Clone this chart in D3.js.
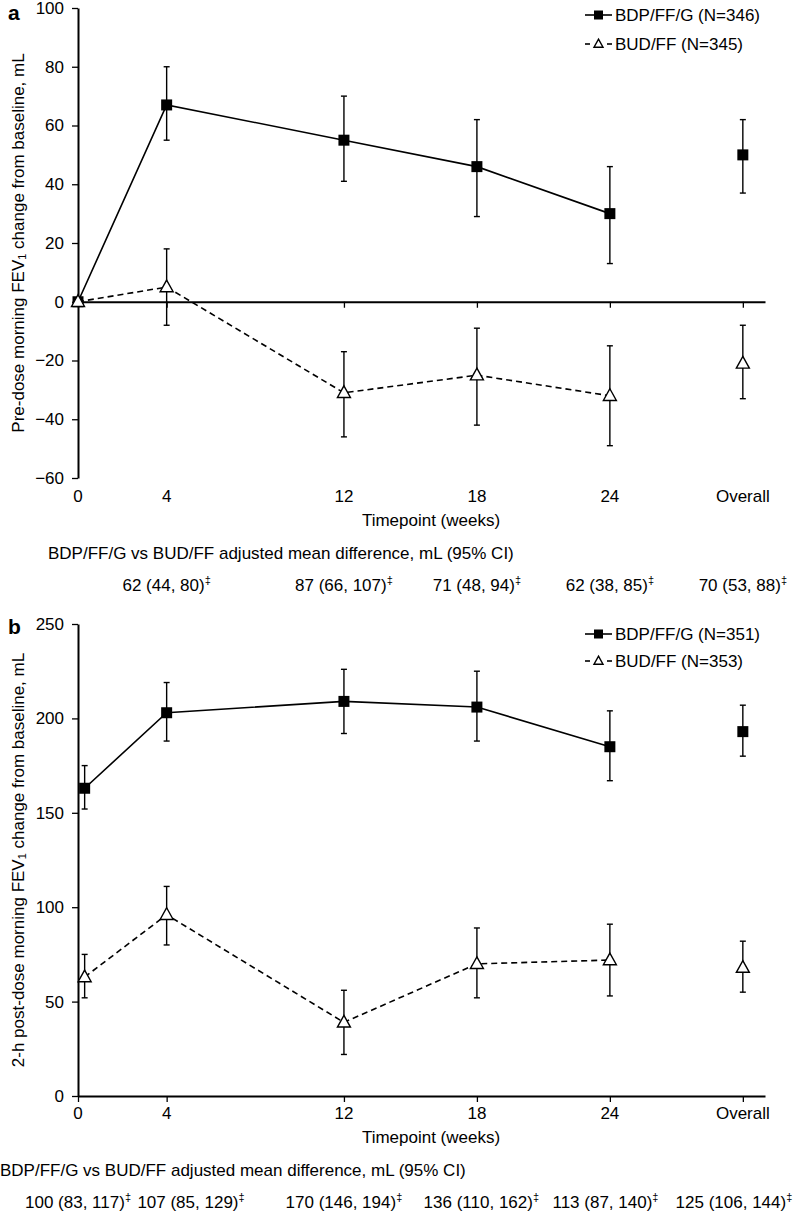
<!DOCTYPE html>
<html><head><meta charset="utf-8">
<script src="https://cdn.jsdelivr.net/npm/d3@7/dist/d3.min.js"></script>
<style>
body{margin:0;background:#fff;}
svg{display:block;font-family:"Liberation Sans",Arial,sans-serif;}
</style></head>
<body>
<svg id="c" width="797" height="1213"></svg>
<script>
// ---------- data ----------
const tickWeeks = [0, 4, 12, 18, 24, 30];
const tickLabels = ["0", "4", "12", "18", "24", "Overall"];

// Panel a
const aWeeks = [0, 4, 12, 18, 24, 30];
const aTripleMean = [0, 67, 55, 46, 30, 50];
const aTripleLo   = [null, 55, 41, 29, 13, 37];
const aTripleHi   = [null, 80, 70, 62, 46, 62];
const aDualMean   = [0, 5, -31, -25, -32, -21];
const aDualLo     = [null, -8, -46, -42, -49, -33];
const aDualHi     = [null, 18, -17, -9, -15, -8];
const aYTicks = [-60, -40, -20, 0, 20, 40, 60, 80, 100];
const aDiffText = ["62 (44, 80)", "87 (66, 107)", "71 (48, 94)", "62 (38, 85)", "70 (53, 88)"];
const aDiffWeeks = [4, 12, 18, 24, 30];
const aLegend = ["BDP/FF/G (N=346)", "BUD/FF (N=345)"];

// Panel b
const bWeeks = [0.3, 4, 12, 18, 24, 30];
const bTripleMean = [163, 203, 209, 206, 185, 193];
const bTripleLo   = [152, 188, 192, 188, 167, 180];
const bTripleHi   = [175, 219, 226, 225, 204, 207];
const bDualMean   = [63, 96, 39, 70, 72, 68];
const bDualLo     = [52, 80, 22, 52, 53, 55];
const bDualHi     = [75, 111, 56, 89, 91, 82];
const bYTicks = [0, 50, 100, 150, 200, 250];
const bDiffText = ["100 (83, 117)", "107 (85, 129)", "170 (146, 194)", "136 (110, 162)", "113 (87, 140)", "125 (106, 144)"];
const bDiffWeeks = [0, 5.1, 12, 18.2, 23.8, 29.6];
const bLegend = ["BDP/FF/G (N=351)", "BUD/FF (N=353)"];

const diffTitle = "BDP/FF/G vs BUD/FF adjusted mean difference, mL (95% CI)";

// ---------- drawing ----------
const svg = d3.select("#c");
const FS = 17;
const x = d3.scaleLinear().domain([0, 31]).range([78, 765]);

function panel(o) {
  const g = svg.append("g");
  const y = d3.scaleLinear().domain(o.yDomain).range(o.yRange);
  const y0 = y(o.xAxisAt);

  // y axis
  const ya = g.append("g").attr("transform", `translate(${x(0)},0)`)
    .call(d3.axisLeft(y).tickValues(o.yTicks).tickSize(6).tickPadding(8).tickSizeOuter(0));
  ya.select(".domain").attr("stroke-width", 2);
  ya.selectAll(".tick line").attr("stroke-width", 1.3);
  ya.selectAll(".tick text").attr("font-size", FS).attr("font-family", "Liberation Sans, Arial, sans-serif").attr("fill", "#000");

  // x axis line at y = 0 with ticks hanging down
  const xa = g.append("g").attr("transform", `translate(0,${y0})`)
    .call(d3.axisBottom(x).tickValues(tickWeeks).tickSize(6).tickSizeOuter(0).tickFormat(""));
  xa.select(".domain").attr("stroke-width", 2);
  xa.selectAll(".tick line").attr("stroke-width", 1.3);

  // x tick labels at panel bottom
  g.selectAll(".xl").data(tickWeeks).join("text")
    .attr("x", (d) => x(d)).attr("y", o.xLabelY)
    .attr("text-anchor", "middle").attr("dominant-baseline", "central")
    .attr("font-size", FS).text((d, i) => tickLabels[i]);

  g.append("text").attr("x", 431).attr("y", o.xLabelY + 24)
    .attr("text-anchor", "middle").attr("dominant-baseline", "central")
    .attr("font-size", FS).text("Timepoint (weeks)");

  // y title with subscript
  const yt = g.append("text")
    .attr("transform", `translate(18,${o.yTitleY}) rotate(-90)`)
    .attr("text-anchor", "middle").attr("dominant-baseline", "central")
    .attr("font-size", FS);
  yt.append("tspan").text(o.yTitle[0]);
  yt.append("tspan").attr("font-size", 11).attr("dy", 4).text("1");
  yt.append("tspan").attr("dy", -4).text(o.yTitle[1]);

  // panel letter
  g.append("text").attr("x", 8).attr("y", o.letterY).attr("font-size", 21)
    .attr("font-weight", "bold").attr("dominant-baseline", "central").text(o.letter);

  const line = d3.line().x((d) => x(d.w)).y((d) => y(d.m));
  function series(weeks, mean, lo, hi, dashed, marker) {
    const pts = weeks.map((w, i) => ({ w, m: mean[i], lo: lo[i], hi: hi[i] }));
    const linePts = pts.filter((d) => d.w < 29);
    g.append("path").datum(linePts).attr("d", line).attr("fill", "none")
      .attr("stroke", "#000").attr("stroke-width", 1.6)
      .attr("stroke-dasharray", dashed ? "6,4" : null);
    const eb = g.append("g").attr("stroke", "#000").attr("stroke-width", 1.4);
    pts.filter((d) => d.lo !== null).forEach((d) => {
      eb.append("line").attr("x1", x(d.w)).attr("x2", x(d.w)).attr("y1", y(d.lo)).attr("y2", y(d.hi));
      eb.append("line").attr("x1", x(d.w) - 3).attr("x2", x(d.w) + 3).attr("y1", y(d.lo)).attr("y2", y(d.lo));
      eb.append("line").attr("x1", x(d.w) - 3).attr("x2", x(d.w) + 3).attr("y1", y(d.hi)).attr("y2", y(d.hi));
    });
    pts.forEach((d) => drawMarker(g, marker, x(d.w), y(d.m)));
  }
  series(o.weeks, o.tMean, o.tLo, o.tHi, false, "square");
  series(o.weeks, o.dMean, o.dLo, o.dHi, true, "triangle");

  // legend
  const lx1 = 585, lx2 = 612, tx = 615;
  g.append("line").attr("x1", lx1).attr("x2", lx2).attr("y1", o.legY[0]).attr("y2", o.legY[0])
    .attr("stroke", "#000").attr("stroke-width", 1.6);
  drawMarker(g, "square", (lx1 + lx2) / 2, o.legY[0], 9);
  g.append("line").attr("x1", lx1).attr("x2", lx1 + 5).attr("y1", o.legY[1]).attr("y2", o.legY[1])
    .attr("stroke", "#000").attr("stroke-width", 1.6);
  g.append("line").attr("x1", lx2 - 5).attr("x2", lx2).attr("y1", o.legY[1]).attr("y2", o.legY[1])
    .attr("stroke", "#000").attr("stroke-width", 1.6);
  drawMarker(g, "triangle", (lx1 + lx2) / 2, o.legY[1], 9);
  o.legend.forEach((t, i) => {
    g.append("text").attr("x", tx).attr("y", o.legY[i]).attr("dominant-baseline", "central")
      .attr("font-size", FS).text(t);
  });

  // difference annotations
  g.append("text").attr("x", o.diffTitleX).attr("y", o.diffY).attr("dominant-baseline", "central")
    .attr("font-size", FS).text(diffTitle);
  o.diffWeeks.forEach((w, i) => {
    const t = g.append("text").attr("x", x(w)).attr("y", o.diffY + 32)
      .attr("text-anchor", "middle").attr("dominant-baseline", "central").attr("font-size", FS);
    t.append("tspan").text(o.diffText[i]);
    t.append("tspan").attr("font-size", 11).attr("dy", -5).text("\u2021");
  });
}

function drawMarker(g, type, cx, cy, s) {
  if (type === "square") {
    const h = (s || 11) / 2;
    g.append("rect").attr("x", cx - h).attr("y", cy - h).attr("width", 2 * h).attr("height", 2 * h)
      .attr("fill", "#000");
  } else {
    const w = (s || 13) / 2, hh = (s || 13) * 0.9;
    g.append("path")
      .attr("d", `M${cx},${cy - hh * 0.6}L${cx + w},${cy + hh * 0.4}L${cx - w},${cy + hh * 0.4}Z`)
      .attr("fill", "#fff").attr("stroke", "#000").attr("stroke-width", 1.4);
  }
}

panel({
  letter: "a", letterY: 12,
  yDomain: [-60, 100], yRange: [478, 8], xAxisAt: 0, yTicks: aYTicks,
  xLabelY: 496, yTitleY: 243,
  yTitle: ["Pre-dose morning FEV", " change from baseline, mL"],
  weeks: aWeeks, tMean: aTripleMean, tLo: aTripleLo, tHi: aTripleHi,
  dMean: aDualMean, dLo: aDualLo, dHi: aDualHi,
  legY: [15, 44], legend: aLegend,
  diffTitleX: 48, diffY: 553, diffWeeks: aDiffWeeks, diffText: aDiffText
});

panel({
  letter: "b", letterY: 626,
  yDomain: [0, 250], yRange: [1096, 624], xAxisAt: 0, yTicks: bYTicks,
  xLabelY: 1113, yTitleY: 860,
  yTitle: ["2-h post-dose morning FEV", " change from baseline, mL"],
  weeks: bWeeks, tMean: bTripleMean, tLo: bTripleLo, tHi: bTripleHi,
  dMean: bDualMean, dLo: bDualLo, dHi: bDualHi,
  legY: [634, 661], legend: bLegend,
  diffTitleX: 0, diffY: 1170, diffWeeks: bDiffWeeks, diffText: bDiffText
});
</script>
</body></html>
